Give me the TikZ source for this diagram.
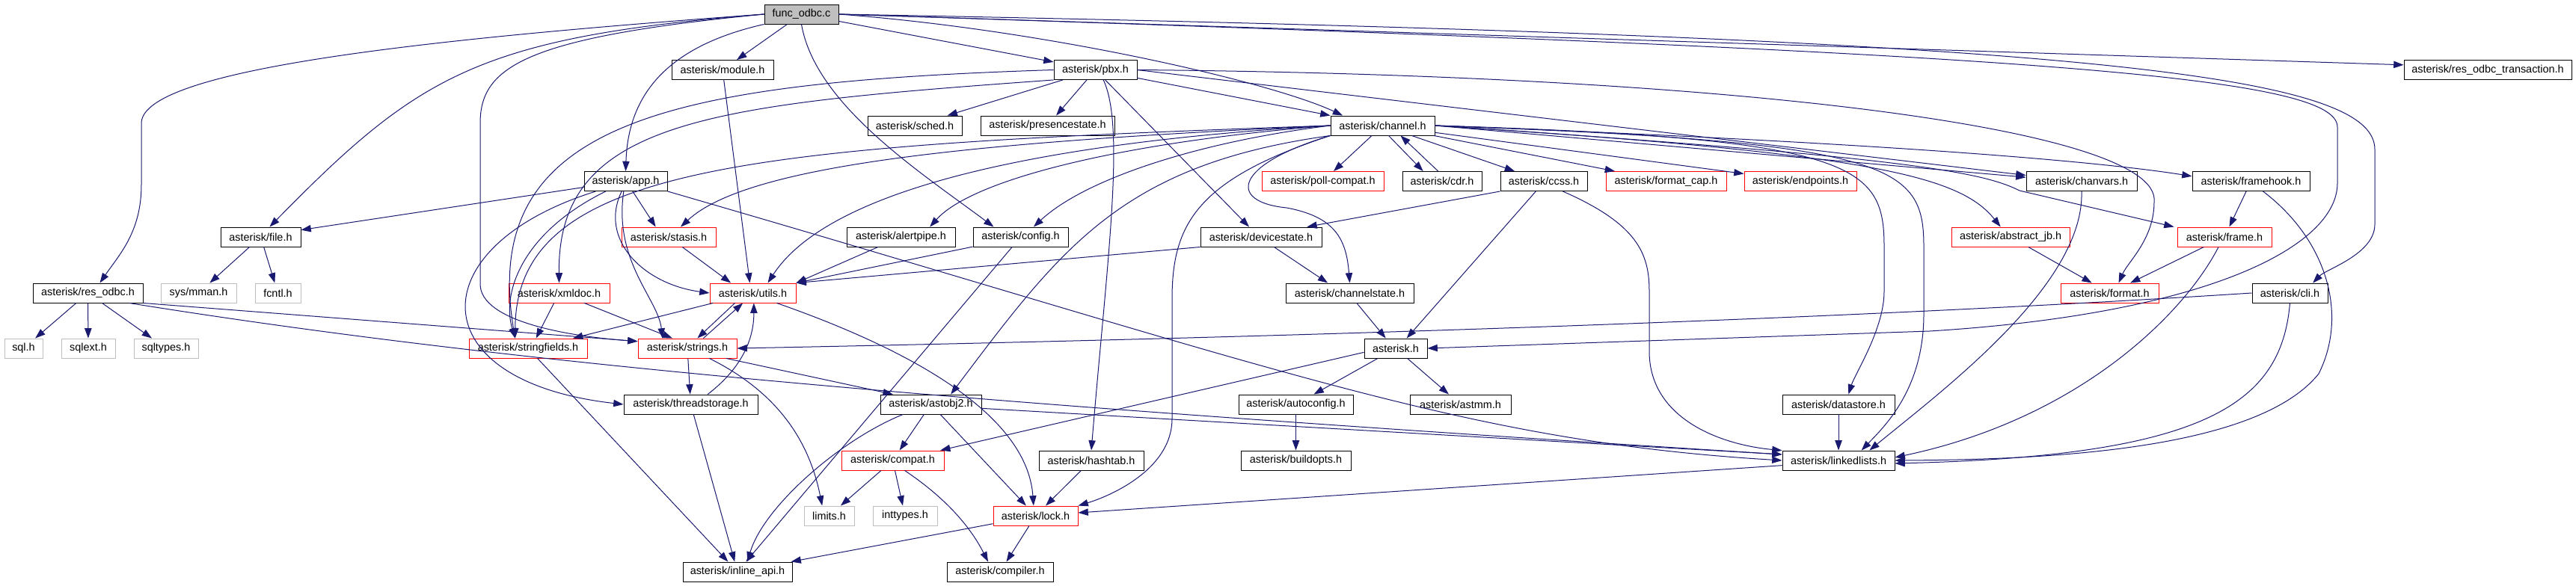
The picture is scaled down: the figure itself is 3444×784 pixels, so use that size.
\documentclass[tikz,border=0pt]{standalone}
\usepackage{fontspec}
\setmainfont{Liberation Sans}
\usetikzlibrary{arrows.meta}
\definecolor{edgeblue}{HTML}{191970}
\definecolor{leafgray}{HTML}{BFBFBF}
\definecolor{hotred}{HTML}{FF0000}
\begin{document}
\begin{tikzpicture}[x=0.75pt, y=-0.75pt, font=\fontsize{10.8}{12}\selectfont,
  hdr/.style={draw=black, line width=0.7pt, rectangle, minimum height=19.5pt, inner sep=0pt},
  hdrred/.style={hdr, draw=hotred},
  hdrleaf/.style={hdr, draw=leafgray},
  bw/.style={minimum width=#1*0.75pt},
  inc/.style={draw=edgeblue, line width=0.75pt, -{Triangle[length=10pt,width=7pt]}}]
\useasboundingbox (0,0) rectangle (3444,784);
% row 0
\node[hdr, bw=99, fill=leafgray] (func) at (1071.5,19) {func\_odbc.c};
% row 1
\node[hdr, bw=136] (module) at (966,93.5) {asterisk/module.h};
\node[hdr, bw=111] (pbx) at (1464.5,93.5) {asterisk/pbx.h};
\node[hdr, bw=224] (trans) at (3326,93.5) {asterisk/res\_odbc\_transaction.h};
% row 2
\node[hdr, bw=126] (sched) at (1223,168) {asterisk/sched.h};
\node[hdr, bw=179] (presence) at (1400.5,168) {asterisk/presencestate.h};
\node[hdr, bw=139] (chan) at (1848.5,168) {asterisk/channel.h};
% row 3
\node[hdr, bw=111] (app) at (836.5,242.5) {asterisk/app.h};
\node[hdrred, bw=163] (poll) at (1768.5,242.5) {asterisk/poll-compat.h};
\node[hdr, bw=106] (cdr) at (1928,242.5) {asterisk/cdr.h};
\node[hdr, bw=116] (ccss) at (2064,242.5) {asterisk/ccss.h};
\node[hdrred, bw=161] (fmtcap) at (2227.5,242.5) {asterisk/format\_cap.h};
\node[hdrred, bw=150] (endp) at (2407,242.5) {asterisk/endpoints.h};
\node[hdr, bw=148] (chanvars) at (2783,242.5) {asterisk/chanvars.h};
\node[hdr, bw=157] (fhook) at (3009.5,242.5) {asterisk/framehook.h};
% row 4
\node[hdr, bw=107] (fileh) at (348.5,317) {asterisk/file.h};
\node[hdrred, bw=126] (stasis) at (894,317) {asterisk/stasis.h};
\node[hdr, bw=145] (alert) at (1204.5,317) {asterisk/alertpipe.h};
\node[hdr, bw=127] (config) at (1364.5,317) {asterisk/config.h};
\node[hdr, bw=162] (devst) at (1686,317) {asterisk/devicestate.h};
\node[hdrred, bw=158] (abjb) at (2688,317) {asterisk/abstract\_jb.h};
\node[hdrred, bw=126] (frameh) at (2974,317) {asterisk/frame.h};
% row 5
\node[hdr, bw=147] (resodbc) at (117.5,392) {asterisk/res\_odbc.h};
\node[hdrleaf, bw=101] (mman) at (265.5,392) {sys/mman.h};
\node[hdrleaf, bw=61] (fcntl) at (371.5,392) {fcntl.h};
\node[hdrred, bw=135] (xmldoc) at (747.5,392) {asterisk/xmldoc.h};
\node[hdrred, bw=115] (utils) at (1006.5,392) {asterisk/utils.h};
\node[hdr, bw=171] (chst) at (1804.5,392) {asterisk/channelstate.h};
\node[hdrred, bw=131] (format) at (2820.5,392) {asterisk/format.h};
\node[hdr, bw=101] (cli) at (3061.5,392) {asterisk/cli.h};
% row 6
\node[hdrleaf, bw=51] (sql) at (31.5,466) {sql.h};
\node[hdrleaf, bw=72] (sqlext) at (118,466) {sqlext.h};
\node[hdrleaf, bw=86] (sqltypes) at (222,466) {sqltypes.h};
\node[hdrred, bw=158] (strf) at (706,466) {asterisk/stringfields.h};
\node[hdrred, bw=132] (strs) at (919,466) {asterisk/strings.h};
\node[hdr, bw=84] (ast) at (1866,466) {asterisk.h};
% row 7
\node[hdr, bw=179] (thst) at (923.5,541) {asterisk/threadstorage.h};
\node[hdr, bw=135] (ao2) at (1244.5,541) {asterisk/astobj2.h};
\node[hdr, bw=153] (autoc) at (1732.5,541) {asterisk/autoconfig.h};
\node[hdr, bw=135] (astmm) at (1952.5,541) {asterisk/astmm.h};
\node[hdr, bw=150] (dstore) at (2458,541) {asterisk/datastore.h};
% row 8
\node[hdrred, bw=137] (compat) at (1193.5,616) {asterisk/compat.h};
\node[hdr, bw=140] (hashtab) at (1459,616) {asterisk/hashtab.h};
\node[hdr, bw=147] (bopts) at (1732.5,616) {asterisk/buildopts.h};
\node[hdr, bw=150] (llist) at (2458,616) {asterisk/linkedlists.h};
% row 9
\node[hdrleaf, bw=67] (limits) at (1108.5,690) {limits.h};
\node[hdrleaf, bw=86] (inttypes) at (1210,690) {inttypes.h};
\node[hdrred, bw=113] (lock) at (1384.5,690) {asterisk/lock.h};
% row 10
\node[hdr, bw=146] (inline) at (986,765) {asterisk/inline\_api.h};
\node[hdr, bw=142] (compiler) at (1337,765) {asterisk/compiler.h};
% func_odbc.c
\draw[inc] (func.west) .. controls (600,50) and (189,90) .. (189,165) -- (189,247) .. controls (189,310) and (160,340) .. ([xshift=12pt]resodbc.north);
\draw[inc] (func.west) .. controls (640,50) and (560,100) .. ([xshift=9pt]fileh.north);
\draw[inc] (func.west) .. controls (700,50) and (642,90) .. (642,165) -- (642,380) .. controls (642,430) and (760,450) .. ([yshift=7pt]strs.west);
\draw[inc] (func.south west) .. controls (900,60) and (840,120) .. (app.north);
\draw[inc] (func) -- (module);
\draw[inc] (func.south) .. controls (1090,140) and (1230,230) .. ([xshift=-27pt]config.north);
\draw[inc] (func) -- (pbx);
\draw[inc] (func.east) .. controls (1400,40) and (1700,110) .. ([xshift=-40pt]chan.north);
\draw[inc] (func.east) -- ([yshift=5pt]trans.west);
\draw[inc] (func.east) .. controls (2800,50) and (3175,100) .. (3175,200) -- (3175,300) .. controls (3175,340) and (3110,360) .. ([xshift=23pt]cli.north);
\draw[inc] (func.east) .. controls (2700,70) and (3125,100) .. (3125,170) -- (3125,245) .. controls (3125,330) and (2950,420) .. (2580,443) -- (ast.east);
% pbx.h
\draw[inc] (pbx) -- (sched);
\draw[inc] (pbx) -- (presence);
\draw[inc] (pbx) -- (chan.north west);
\draw[inc] (pbx.east) -- ([yshift=6pt]chanvars.west);
\draw[inc] (pbx.east) .. controls (2300,100) and (2890,170) .. (2880,270) .. controls (2880,320) and (2845,350) .. ([xshift=9pt]format.north);
\draw[inc] (pbx) -- ([xshift=-12pt]devst.north);
\draw[inc] ([xshift=8pt]pbx.south) .. controls (1505,170) and (1480,350) .. (hashtab.north);
\draw[inc] (pbx.west) .. controls (900,110) and (640,160) .. ([xshift=-13pt]strf.north);
\draw[inc] (pbx.south west) .. controls (950,140) and (745,160) .. (xmldoc.north);
% channel.h
\draw[inc] (chan) -- (poll);
\draw[inc] ([xshift=6pt]chan.south) -- ([xshift=-19pt]cdr.north);
\draw[inc] ([xshift=-4pt]cdr.north) -- ([xshift=18pt]chan.south);
\draw[inc] (chan) -- (ccss);
\draw[inc] (chan) -- (fmtcap);
\draw[inc] (chan) -- (endp);
\draw[inc] (chan.east) -- ([yshift=4pt]chanvars.west);
\draw[inc] (chan.east) .. controls (2500,190) and (2800,215) .. ([yshift=5pt]fhook.west);
\draw[inc] (chan.east) .. controls (2500,205) and (2620,235) .. ([xshift=-10pt]abjb.north);
\draw[inc] (chan.east) .. controls (2550,210) and (2650,230) .. (2700,255) -- ([xshift=-3pt]frameh.north west);
\draw[inc] (chan.east) .. controls (2480,185) and (2519,220) .. (2519,330) -- (2519,390) .. controls (2519,440) and (2480,500) .. ([xshift=10pt]dstore.north);
\draw[inc] (chan.east) .. controls (2530,190) and (2572,220) .. (2572,330) -- (2572,420) .. controls (2572,520) and (2520,570) .. ([xshift=23pt]llist.north);
\draw[inc] (chan.west) .. controls (1300,190) and (1000,220) .. ([xshift=12pt]stasis.north);
\draw[inc] (chan.west) .. controls (1500,190) and (1300,240) .. ([xshift=29pt]alert.north);
\draw[inc] (chan.west) .. controls (1600,190) and (1450,240) .. ([xshift=13pt]config.north);
\draw[inc] (chan.west) .. controls (1400,190) and (1110,250) .. ([xshift=15pt]utils.north);
\draw[inc] (chan.west) .. controls (1000,195) and (690,220) .. ([xshift=-13pt]strf.north);
\draw[inc] (chan.south west) .. controls (1600,240) and (1567,300) .. (1567,400) -- (1567,560) .. controls (1567,630) and (1480,665) .. (lock.north east);
\draw[inc] (chan.south west) .. controls (1500,220) and (1420,330) .. ([xshift=20pt]ao2.north);
\draw[inc] (chan.south west) .. controls (1650,220) and (1640,270) .. (1720,278) .. controls (1785,290) and (1800,320) .. (chst.north);
% ccss.h, devicestate.h, channelstate.h, asterisk.h
\draw[inc] ([xshift=-8pt]ccss.south) -- ([xshift=11pt]ast.north);
\draw[inc] (ccss.south west) -- ([xshift=46pt]devst.north);
\draw[inc] ([xshift=19pt]ccss.south) .. controls (2190,300) and (2205,340) .. (2205,390) -- (2205,470) .. controls (2205,560) and (2300,595) .. ([yshift=10pt]llist.west);
\draw[inc] (devst.south west) -- (utils.north east);
\draw[inc] ([xshift=13pt]devst.south) -- ([xshift=-22pt]chst.north);
\draw[inc] ([xshift=7pt]chst.south) -- ([xshift=-10pt]ast.north);
\draw[inc] (ast) -- (autoc);
\draw[inc] (ast) -- (astmm);
\draw[inc] ([yshift=-4pt]ast.west) -- ([xshift=-4pt]compat.north east);
\draw[inc] (autoc) -- (bopts);
\draw[inc] (dstore) -- (llist);
% right hand side
\draw[inc] (chanvars.south) .. controls (2787,380) and (2600,520) .. ([xshift=31pt]llist.north);
\draw[inc] (fhook) -- (frameh);
\draw[inc] ([xshift=12pt]fhook.south) .. controls (3110,320) and (3140,420) .. (3100,500) .. controls (3020,600) and (2750,615) .. (llist.east);
\draw[inc] ([xshift=-6pt]frameh.south) .. controls (2920,420) and (2780,560) .. ([yshift=3pt]llist.east);
\draw[inc] (frameh) -- (format);
\draw[inc] (abjb) -- (format);
\draw[inc] (cli.south) .. controls (3050,540) and (2950,610) .. ([yshift=-3pt]llist.east);
\draw[inc] (cli.west) .. controls (2500,425) and (1800,450) .. (strs.east);
% bottom part
\draw[inc] ([yshift=-5pt]llist.west) -- ([yshift=3pt]lock.east);
\draw[inc] (lock) -- (inline);
\draw[inc] (lock) -- (compiler);
\draw[inc] (compat) -- (limits);
\draw[inc] (compat) -- (inttypes);
\draw[inc] ([xshift=12pt]compat.south) .. controls (1270,670) and (1300,710) .. ([xshift=-12pt]compiler.north);
\draw[inc] (ao2) -- (compat);
\draw[inc] (ao2) -- (lock);
\draw[inc] ([xshift=-28pt]ao2.south) .. controls (1120,590) and (1020,680) .. ([xshift=10pt]inline.north);
\draw[inc] ([yshift=-4pt]ao2.east) -- ([yshift=6pt]llist.west);
\draw[inc] (hashtab) -- (lock);
\draw[inc] (strs) -- (thst);
\draw[inc] ([xshift=22pt]strs.south) .. controls (1030,520) and (1080,580) .. ([xshift=-7pt]limits.north);
\draw[inc] ([xshift=39pt]strs.south) -- ([xshift=-38pt]ao2.north);
\draw[inc] ([xshift=-18pt]utils.south) -- ([xshift=10pt]strs.north);
\draw[inc] ([xshift=16pt]strs.north) -- ([xshift=-10pt]utils.south);
\draw[inc] ([xshift=-40pt]utils.south) -- ([xshift=45pt]strf.north);
\draw[inc] ([xshift=24pt]utils.south) .. controls (1280,490) and (1375,580) .. ([xshift=-2pt]lock.north);
\draw[inc] ([xshift=17pt]thst.north) .. controls (995,490) and (1008,450) .. ([xshift=1pt]utils.south);
\draw[inc] (thst) -- (inline);
\draw[inc] (strf) -- (inline);
\draw[inc] (config) -- (inline);
\draw[inc] (config) -- (utils.north east);
\draw[inc] (alert) -- (utils.north east);
\draw[inc] (stasis) -- ([xshift=-22pt]utils.north);
% app.h
\draw[inc] ([yshift=-6pt]app.west) -- ([yshift=7pt]fileh.east);
\draw[inc] ([xshift=7pt]app.south) -- ([xshift=-13pt]stasis.north);
\draw[inc] ([xshift=-4pt]app.south) .. controls (800,320) and (860,380) .. (utils.west);
\draw[inc] ([xshift=-2pt]app.south) .. controls (820,350) and (880,400) .. ([xshift=-25pt]strs.north);
\draw[inc] ([xshift=-20pt]app.south) .. controls (700,310) and (670,390) .. ([xshift=-13pt]strf.north);
\draw[inc] ([xshift=-30pt]app.south) .. controls (560,330) and (560,510) .. (thst.west);
\draw[inc] (app.south east) .. controls (1700,490) and (1950,590) .. (llist.west);
% res_odbc.h, file.h, xmldoc.h, module.h
\draw[inc] (resodbc) -- (sql);
\draw[inc] (resodbc) -- (sqlext);
\draw[inc] (resodbc) -- (sqltypes);
\draw[inc] (resodbc.south east) -- ([yshift=7pt]strs.west);
\draw[inc] ([xshift=-14pt]resodbc.south east) .. controls (700,490) and (1300,540) .. ([yshift=6pt]llist.west);
\draw[inc] (fileh) -- (mman);
\draw[inc] (fileh) -- (fcntl);
\draw[inc] (xmldoc) -- ([xshift=8pt]strf.north);
\draw[inc] (xmldoc) -- ([xshift=-15pt]strs.north);
\draw[inc] (module) -- ([xshift=-3pt]utils.north);
\end{tikzpicture}
\end{document}
